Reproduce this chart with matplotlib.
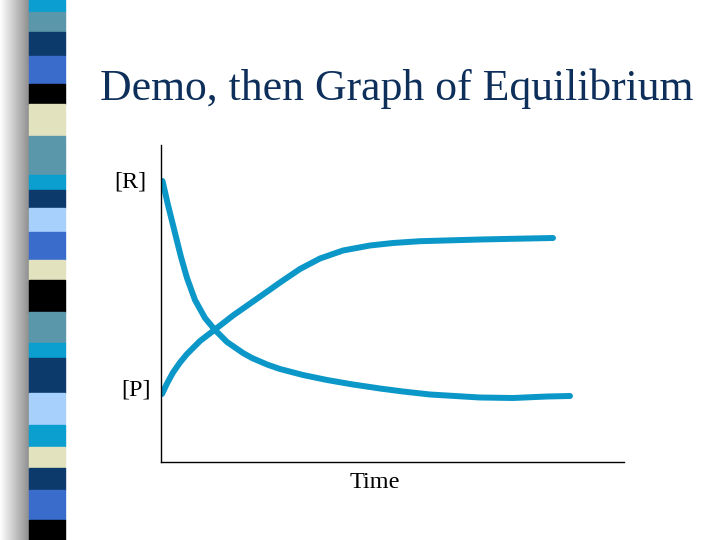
import matplotlib.pyplot as plt
import numpy as np
from matplotlib.patches import Rectangle

plt.rcParams['font.family'] = ['Liberation Serif', 'DejaVu Serif']

# reactant and product curves (time in arbitrary units)
t_r = [1.5, 7, 14, 20, 26, 34, 44, 54, 66, 82, 91, 106, 119, 142, 166, 192, 219, 242, 269,
       319, 352, 386, 409]
conc_r = [281, 257, 229, 205, 184, 162, 144, 132, 120, 109, 104, 97.5, 93, 87, 82, 77.5,
          73.5, 70.5, 67.5, 64.5, 64, 65.5, 66]
t_p = [1, 6, 12, 19, 26, 39, 54, 72, 92, 107, 119, 139, 159, 182, 209, 232, 259, 319, 352, 392]
conc_p = [68, 78.5, 89.5, 99.5, 108, 121, 132.5, 146.5, 160.5, 171, 179.5, 193, 203.5, 211.5,
          216.5, 219, 220.8, 222.5, 223.2, 224]

title = "Demo, then Graph of Equilibrium"
line_color = '#0b97c7'

# decorative strip of squares on the left (pixel band edges, colours)
band_edges = [0, 12, 32, 56, 84, 104, 136, 175, 190, 208, 232, 260, 280, 312, 343,
              358, 393, 425, 447, 468, 490, 520, 540]
band_colors = ['#0a9fd0', '#5b97aa', '#0b3a6b', '#3a6ccc', '#000000', '#e2e2be',
               '#5b97aa', '#0b9fd0', '#0b3a6b', '#a8d0fc', '#3a6ccc', '#e2e2be',
               '#000000', '#5b97aa', '#0b9fd0', '#0b3a6b', '#a8d0fc', '#0b9fd0',
               '#e2e2be', '#0b3a6b', '#3a6ccc', '#000000']

W, H = 720, 540
fig = plt.figure(figsize=(7.2, 5.4), dpi=100)

# shadow gradient beside the strip
grad = np.linspace(1.0, 0.55, 60).reshape(1, -1)
sh = fig.add_axes([0, 0, 30 / W, 1])
sh.imshow(grad, cmap='gray', vmin=0, vmax=1, aspect='auto')
sh.axis('off')

for y0, y1, c in zip(band_edges[:-1], band_edges[1:], band_colors):
    fig.patches.append(Rectangle((29 / W, 1 - y1 / H), 36 / W, (y1 - y0) / H,
                                 transform=fig.transFigure, color=c, zorder=2))

ax = fig.add_axes([161 / W, 1 - 462 / H, (624 - 161) / W, (462 - 145) / H])
ax.plot(t_r, conc_r, color=line_color, lw=4.3, solid_capstyle='round', solid_joinstyle='round')
ax.plot(t_p, conc_p, color=line_color, lw=4.3, solid_capstyle='round', solid_joinstyle='round')
ax.set_xlim(0, 463)
ax.set_ylim(0, 317)
ax.set_xticks([])
ax.set_yticks([])
for s in ['top', 'right']:
    ax.spines[s].set_visible(False)
for s in ['left', 'bottom']:
    ax.spines[s].set_linewidth(1.0)
    ax.spines[s].set_color('black')
ax.patch.set_alpha(0)

fig.text(397 / W, 1 - 100 / H, title, ha='center', va='baseline',
         fontsize=31.5, color='#0d2f5a')
fig.text(146 / W, 1 - 182 / H, "[R]", ha='right', va='center', fontsize=17.5)
fig.text(151 / W, 1 - 390 / H, "[P]", ha='right', va='center', fontsize=17.5)
fig.text(375 / W, 1 - 482 / H, "Time", ha='center', va='center', fontsize=17.5)

fig.savefig("out.png", dpi=100)
